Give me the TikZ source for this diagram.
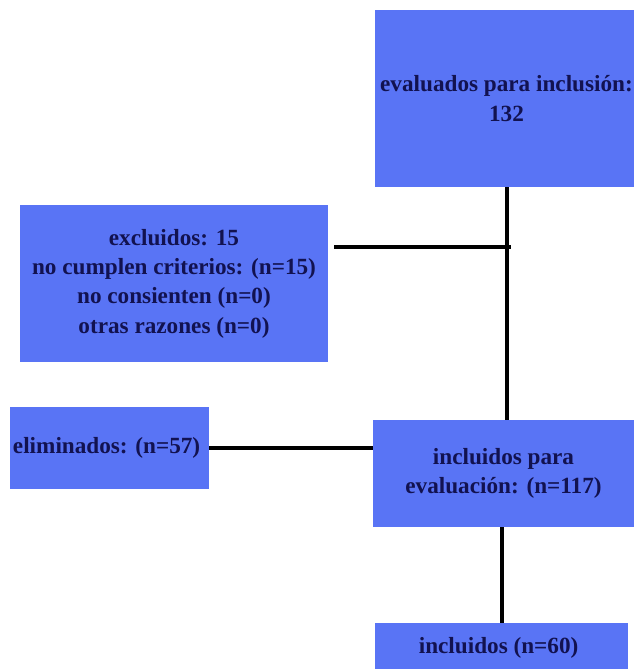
\documentclass[tikz,border=0pt]{standalone}
\usepackage{fontspec}
\setmainfont{Liberation Serif}
\definecolor{cajaazul}{RGB}{89,116,245}
\definecolor{textoazul}{RGB}{18,18,80}
\begin{document}
\begin{tikzpicture}[x=0.75pt,y=-0.75pt,
    caja/.style={fill=cajaazul,inner sep=0pt,align=center,text=textoazul,
      font=\fontsize{17.4}{22}\selectfont\bfseries},
    linea/.style={line width=3pt}]
  \useasboundingbox (0,0) rectangle (634,669);

  \node[caja,minimum width=197.25pt,minimum height=132.75pt] (evaluados) at (506.5,98.5) { evaluados para inclusión:\\132 };
  \node[caja,minimum width=231pt,minimum height=117.75pt] (excluidos) at (174,283.5) { excluidos: 15\\no cumplen criterios: (n=15)\\no consienten (n=0)\\otras razones (n=0) };
  \node[caja,minimum width=149.25pt,minimum height=61.5pt] (eliminados) at (109.5,448) { eliminados: (n=57) };
  \node[caja,minimum width=195.75pt,minimum height=80.25pt] (inclEval) at (503.5,473.5) { incluidos para\\evaluación: (n=117) };
  \node[caja,minimum width=189.75pt,minimum height=36.75pt] (incluidos) at (501.5,647.5) { incluidos (n=60) };

  \coordinate (exclFin) at (334,247);
  \coordinate (cruce) at (evaluados.south |- exclFin);

  \draw[linea] (evaluados.south) -- (evaluados.south |- inclEval.north);
  \draw[linea] (exclFin) -- ([xshift=3pt]cruce);
  \draw[linea] (eliminados.east) -- (eliminados.east -| inclEval.west);
  \draw[linea] (incluidos.north |- inclEval.south) -- (incluidos.north);
\end{tikzpicture}
\end{document}
